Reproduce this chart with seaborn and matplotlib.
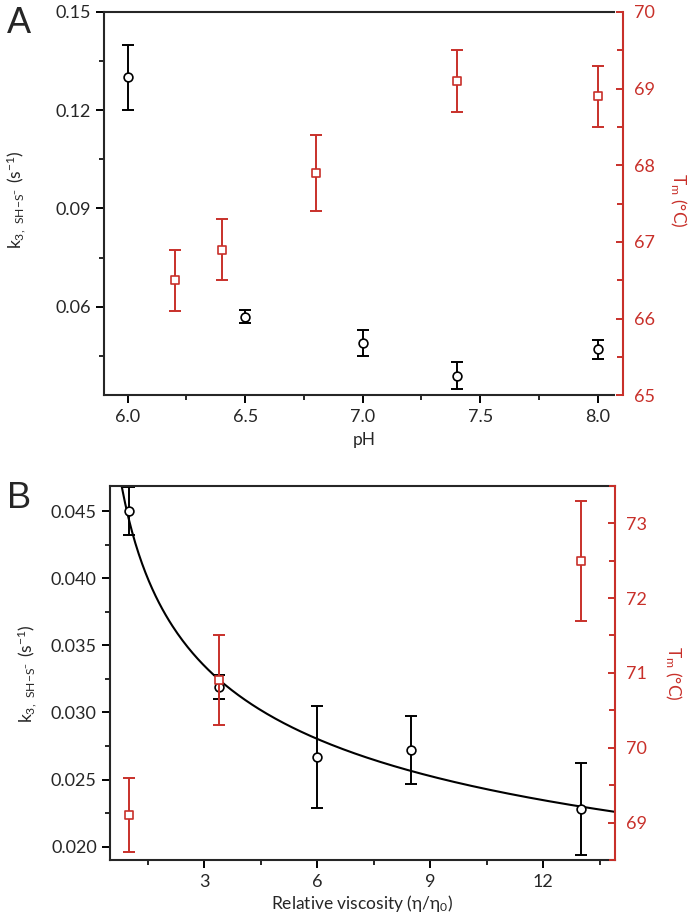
import numpy as np
import pandas as pd
import matplotlib
matplotlib.use('Agg')
import matplotlib.pyplot as plt
from matplotlib.ticker import MultipleLocator, FormatStrFormatter
import seaborn as sns

# panel A: pH dependence
ph_k = [6.0, 6.5, 7.0, 7.4, 8.0]
k_ph = [0.130, 0.057, 0.049, 0.039, 0.047]
k_ph_err = [0.010, 0.002, 0.004, 0.004, 0.003]
ph_tm = [6.2, 6.4, 6.8, 7.4, 8.0]
tm_ph = [66.5, 66.9, 67.9, 69.1, 68.9]
tm_ph_err = [0.4, 0.4, 0.5, 0.4, 0.4]

# panel B: viscosity dependence
visc_k = [1.0, 3.4, 6.0, 8.5, 13.0]
k_visc = [0.045, 0.0319, 0.0267, 0.0272, 0.0228]
k_visc_err = [0.0018, 0.0009, 0.0038, 0.0025, 0.0034]
visc_tm = [1.0, 3.4, 13.0]
tm_visc = [69.1, 70.9, 72.5]
tm_visc_err = [0.5, 0.6, 0.8]

RED = '#c8302a'
k_label = r'$\mathregular{k_{3,\ SH{-}S^{-}}\ (s^{-1})}$'
tm_label = r'$\mathregular{T_m}$ (°C)'

sns.set_theme(style='ticks')
plt.rcParams['font.family'] = ['Lato', 'DejaVu Sans']
plt.rcParams['font.size'] = 12.5
plt.rcParams['axes.linewidth'] = 1.5

fig = plt.figure(figsize=(6.94, 9.17), dpi=100)


def style_axes(ax, ax2):
    ax.spines['right'].set_visible(False)
    ax2.spines['top'].set_visible(False)
    ax2.spines['left'].set_visible(False)
    ax2.spines['bottom'].set_visible(False)
    ax2.spines['right'].set_color(RED)
    ax2.spines['right'].set_linewidth(1.5)
    ax.tick_params(which='major', length=6, width=1.4, labelsize=13, color='black')
    ax.tick_params(which='minor', length=3.5, width=1.4)
    ax.tick_params(axis='x', pad=4)
    ax2.tick_params(which='major', direction='in', length=5, width=1.4,
                    colors=RED, labelsize=13, pad=8)
    ax2.tick_params(which='minor', direction='in', length=4, width=1.4, colors=RED)


def draw_points(ax, x, y, err, color, marker, size):
    ax.errorbar(x, y, yerr=err, fmt='none', ecolor=color, elinewidth=1.4,
                capsize=4.5, capthick=1.4, zorder=2)
    sns.scatterplot(x=x, y=y, ax=ax, marker=marker, s=size, color='white',
                    edgecolor=color, linewidth=1.2, zorder=3, legend=False)


# ---- panel A ----
axA = fig.add_axes([0.150, 0.569, 0.735, 0.418])
axA2 = axA.twinx()
draw_points(axA, ph_k, k_ph, k_ph_err, 'black', 'o', 40)
draw_points(axA2, ph_tm, tm_ph, tm_ph_err, RED, 's', 28)
axA.set_xlim(5.9, 8.07)
axA.set_ylim(0.033, 0.15)
axA2.set_ylim(65, 70)
axA.xaxis.set_major_locator(MultipleLocator(0.5))
axA.xaxis.set_minor_locator(MultipleLocator(0.25))
axA.xaxis.set_major_formatter(FormatStrFormatter('%.1f'))
axA.yaxis.set_major_locator(MultipleLocator(0.03))
axA.yaxis.set_minor_locator(MultipleLocator(0.015))
axA.yaxis.set_major_formatter(FormatStrFormatter('%.2f'))
axA2.yaxis.set_major_locator(MultipleLocator(1))
axA2.yaxis.set_minor_locator(MultipleLocator(0.5))
style_axes(axA, axA2)
axA2.spines['right'].set_position(('outward', 6))
axA.set_xlabel('')
axA.set_ylabel('')

# ---- panel B ----
axB = fig.add_axes([0.1585, 0.0622, 0.7275, 0.408])
axB2 = axB.twinx()
# power-law fit through the rate constants
slope, icpt = np.polyfit(np.log(visc_k), np.log(k_visc), 1)
x_fit = np.linspace(0.5, 13.9, 300)
fit = pd.DataFrame({'x': x_fit, 'y': np.exp(icpt) * x_fit ** slope})
sns.lineplot(data=fit, x='x', y='y', ax=axB, color='black', linewidth=1.5, zorder=1)
draw_points(axB, visc_k, k_visc, k_visc_err, 'black', 'o', 40)
draw_points(axB2, visc_tm, tm_visc, tm_visc_err, RED, 's', 28)
axB.set_xlim(0.5, 13.9)
axB.set_ylim(0.019, 0.0469)
axB2.set_ylim(68.5, 73.5)
axB.xaxis.set_major_locator(MultipleLocator(3))
axB.xaxis.set_minor_locator(MultipleLocator(1.5))
axB.yaxis.set_major_locator(MultipleLocator(0.005))
axB.yaxis.set_minor_locator(MultipleLocator(0.0025))
axB.yaxis.set_major_formatter(FormatStrFormatter('%.3f'))
axB2.yaxis.set_major_locator(MultipleLocator(1))
axB2.yaxis.set_minor_locator(MultipleLocator(0.5))
style_axes(axB, axB2)
axB.set_xlabel('')
axB.set_ylabel('')

# labels
fig.text(0.023, 0.782, k_label, rotation=90, ha='center', va='center')
fig.text(0.977, 0.782, tm_label, rotation=270, ha='center', va='center', color=RED)
fig.text(0.525, 0.520, 'pH', ha='center', va='center')
fig.text(0.040, 0.266, k_label, rotation=90, ha='center', va='center')
fig.text(0.970, 0.266, tm_label, rotation=270, ha='center', va='center', color=RED)
fig.text(0.522, 0.015, r'Relative viscosity (η/η$\mathregular{_0}$)',
         ha='center', va='center')
fig.text(0.010, 1 - 33 / 917, 'A', fontsize=26, family='Liberation Sans',
         va='baseline')
fig.text(0.010, 1 - 508 / 917, 'B', fontsize=26, family='Liberation Sans',
         va='baseline')

plt.savefig('out.png', dpi=100)
plt.close()
